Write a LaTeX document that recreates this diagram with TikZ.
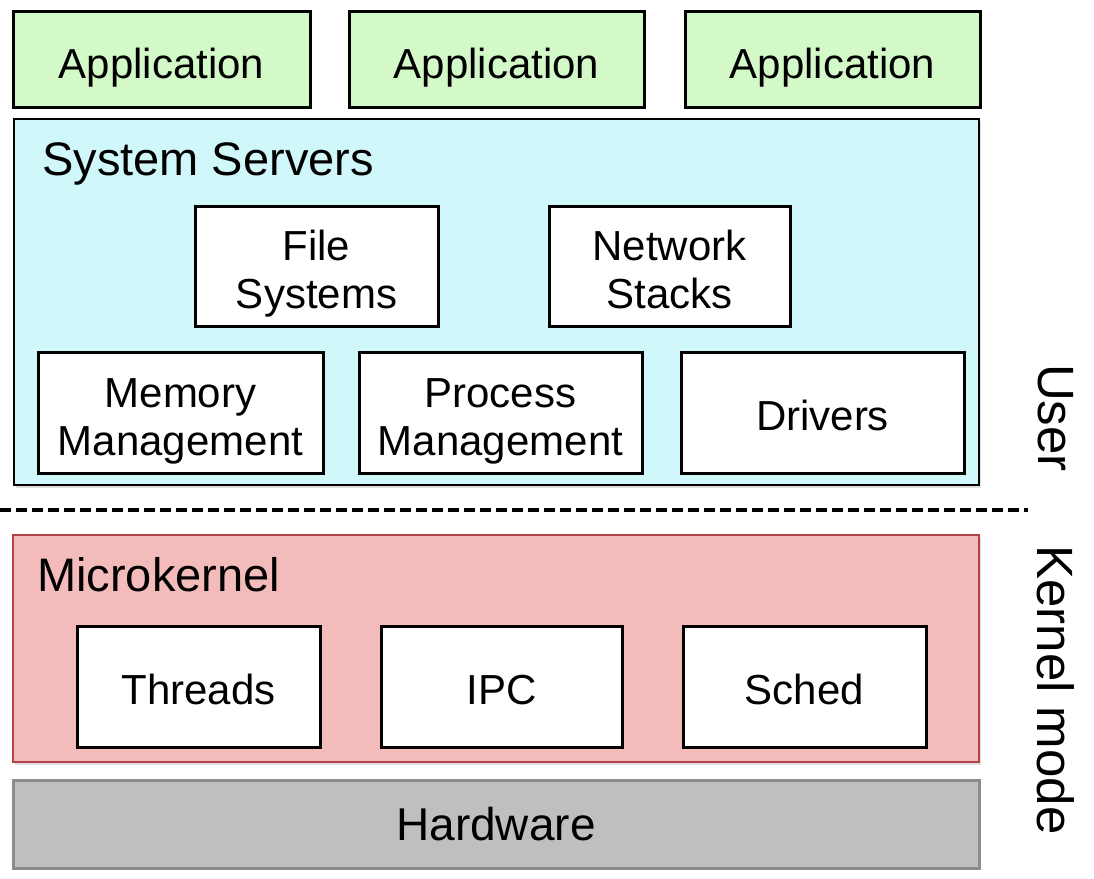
\documentclass[tikz,border=0pt]{standalone}
\usepackage{fontspec}
\setmainfont{Liberation Sans}
\usetikzlibrary{shadows}
\definecolor{appgreen}{RGB}{212,249,201}
\definecolor{srvcyan}{RGB}{208,248,251}
\definecolor{kpink}{RGB}{244,187,187}
\definecolor{kborder}{RGB}{178,66,74}
\definecolor{hwgray}{RGB}{191,191,191}
\definecolor{hwborder}{RGB}{140,140,140}
\begin{document}
\begin{tikzpicture}
  [x=1pt,y=-1pt,every node/.style={inner sep=0pt,align=center,font=\fontsize{42}{48}\selectfont}]
  \tikzstyle{comp} = [draw,line width=3pt,fill=white,minimum height=121pt,text height=35pt,text depth=0pt]
  \tikzstyle{comp2} = [comp,text height=85pt]
  \tikzstyle{app} = [draw,line width=3pt,fill=appgreen,minimum height=96pt,text height=38pt,text depth=0pt]
  \tikzstyle{layer} = [draw,line width=1.5pt,drop shadow={shadow xshift=2pt,shadow yshift=-3pt,opacity=.25}]
  \tikzstyle{title} = [anchor=west,font=\fontsize{47}{50}\selectfont]
  \tikzstyle{side} = [rotate=-90,font=\fontsize{51}{54}\selectfont]
  \useasboundingbox (0,0) rectangle (1094,878);

  \node[app,minimum width=297pt] (a1) at (161.5,59) {Application};
  \node[app,minimum width=295pt] (a2) at (496.5,59) {Application};
  \node[app,minimum width=295pt] (a3) at (832.5,59) {Application};

  \node[layer,fill=srvcyan,minimum width=965pt,minimum height=366pt] (srv) at (496.5,302) {};
  \node[title] (srvt) at (42,164) {System Servers};
  \node[comp2,minimum width=243pt,minimum height=120pt] (fs) at (316.5,266) {File\\Systems};
  \node[comp2,minimum width=241pt,minimum height=120pt] (net) at (669.5,266) {Network\\Stacks};
  \node[comp2,minimum width=285pt] (mm) at (180.5,412.5) {Memory\\Management};
  \node[comp2,minimum width=283pt] (pm) at (500.5,412.5) {Process\\Management};
  \node[comp,minimum width=283pt] (drv) at (822.5,412.5) {Drivers};

  \coordinate (dl) at (0,510);
  \coordinate (dr) at (1028,510);
  \draw[line width=3.5pt,dash pattern=on 11pt off 5pt] (dl) -- (dr);

  \node[layer,draw=kborder,fill=kpink,minimum width=966pt,minimum height=227pt] (mk) at (496,648.5) {};
  \node[title] (mkt) at (37,575) {Microkernel};
  \node[comp,minimum width=243pt] (thr) at (198.5,686.5) {Threads};
  \node[comp,minimum width=241pt] (ipc) at (501.5,686.5) {IPC};
  \node[comp,minimum width=243pt] (sch) at (804.5,686.5) {Sched};

  \node[draw=hwborder,line width=3pt,fill=hwgray,minimum width=966pt,minimum height=88pt,font=\fontsize{46}{50}\selectfont] (hw) at (496,824) {Hardware};

  \node[side] (usr) at (1056,418) {User};
  \node[side] (kmode) at (1056,690) {Kernel mode};
\end{tikzpicture}
\end{document}
